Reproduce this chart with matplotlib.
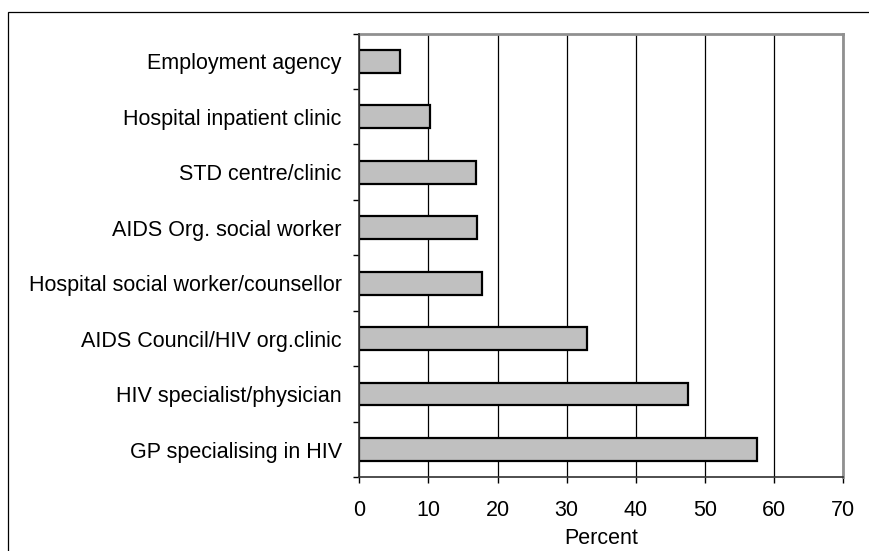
import matplotlib.pyplot as plt
from matplotlib.patches import Rectangle

plt.rcParams['font.family'] = ['Liberation Sans', 'DejaVu Sans']

# categories listed top to bottom
categories = [
    "Employment agency",
    "Hospital inpatient clinic",
    "STD centre/clinic",
    "AIDS Org. social worker",
    "Hospital social worker/counsellor",
    "AIDS Council/HIV org.clinic",
    "HIV specialist/physician",
    "GP specialising in HIV",
]
percent = [5.9, 10.3, 16.9, 17.1, 17.7, 33.0, 47.6, 57.6]
xticks = [0, 10, 20, 30, 40, 50, 60, 70]

fig = plt.figure(figsize=(8.69, 5.51), dpi=100)
ax = fig.add_axes([359.3 / 869, 1 - 477.3 / 551, (843 - 359.3) / 869, (477.3 - 33.5) / 551])

# outer frame (runs off the right and bottom edge)
fig.patches.append(Rectangle((8.3 / 869, -0.1), 1.0, 1 - 12.3 / 551 + 0.1,
                             transform=fig.transFigure, fill=False,
                             edgecolor='black', linewidth=0.9))

ypos = list(range(len(categories)))
ax.barh(ypos, percent, height=0.41, color='#c0c0c0', edgecolor='black', linewidth=1.6, zorder=3)

ax.set_ylim(len(categories) - 0.5, -0.5)
ax.set_xlim(0, 70)
ax.set_xticks(xticks)
ax.set_yticks(ypos)
ax.set_yticklabels(categories)
ax.set_yticks([i - 0.5 for i in range(len(categories) + 1)], minor=True)

ax.tick_params(axis='y', which='major', length=0, pad=12.7, labelsize=15.5)
ax.tick_params(axis='y', which='minor', length=4.3, width=1, color='black', direction='out')
ax.tick_params(axis='x', length=4.3, width=1, pad=12, labelsize=15.5, color='black')

ax.xaxis.grid(True, color='black', linewidth=0.9, zorder=0)
ax.set_axisbelow(True)

for side in ['top', 'right']:
    ax.spines[side].set_color('#909090')
    ax.spines[side].set_linewidth(2)
for side in ['left', 'bottom']:
    ax.spines[side].set_color('#303030')
    ax.spines[side].set_linewidth(1.2)
    ax.spines[side].set_zorder(4)

ax.set_xlabel("Percent", fontsize=15.5, labelpad=5)

fig.savefig("out.png", dpi=100)
